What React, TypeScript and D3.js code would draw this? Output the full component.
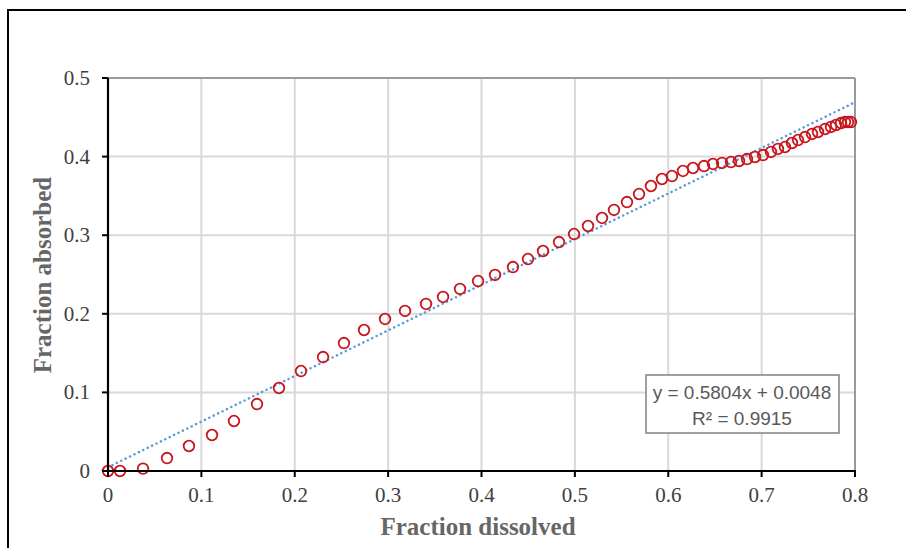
import React from "react";
import * as d3 from "d3";

const fractionDissolved = [
  0, 0.0129, 0.0375, 0.0632, 0.0867, 0.1114, 0.1349, 0.1596, 0.1831, 0.2067,
  0.2303, 0.2527, 0.2742, 0.2967, 0.3181, 0.3406, 0.3588, 0.377, 0.3963, 0.4145,
  0.4337, 0.4498, 0.4659, 0.483, 0.4991, 0.5141, 0.5291, 0.5419, 0.5558, 0.5687,
  0.5815, 0.5933, 0.604, 0.6158, 0.6265, 0.6383, 0.6479, 0.6576, 0.6672, 0.6758,
  0.6843, 0.6929, 0.7015, 0.71, 0.7175, 0.725, 0.7325, 0.739, 0.7465, 0.754,
  0.7604, 0.7679, 0.7743, 0.7797, 0.785, 0.7893, 0.7925, 0.7957,
];
const fractionAbsorbed = [
  0, 0, 0.003, 0.0165, 0.0318, 0.0458, 0.0636, 0.0852, 0.1056, 0.1272,
  0.145, 0.1628, 0.1794, 0.1934, 0.2036, 0.2125, 0.2214, 0.2316, 0.2417, 0.2494,
  0.2595, 0.2697, 0.2799, 0.2913, 0.3015, 0.3117, 0.3219, 0.3321, 0.3422, 0.3524,
  0.3626, 0.3715, 0.3753, 0.3817, 0.3855, 0.388, 0.3906, 0.3919, 0.3931, 0.3944,
  0.3969, 0.3995, 0.402, 0.4059, 0.4097, 0.4122, 0.4173, 0.4211, 0.4249, 0.4288,
  0.4313, 0.4351, 0.4377, 0.4402, 0.4427, 0.444, 0.444, 0.444,
];
const xTicks = [0, 0.1, 0.2, 0.3, 0.4, 0.5, 0.6, 0.7, 0.8];
const yTicks = [0, 0.1, 0.2, 0.3, 0.4, 0.5];
const trendSlope = 0.5804;
const trendIntercept = 0.0048;
const trendDomain = [0, 0.8];
const equationLines = ["y = 0.5804x + 0.0048", "R² = 0.9915"];
const xTitle = "Fraction dissolved";
const yTitle = "Fraction absorbed";

export default function App() {
  const W = 906;
  const H = 548;
  const left = 108;
  const right = 855;
  const top = 78;
  const bottom = 471;

  const x = d3.scaleLinear().domain([0, 0.8]).range([left, right]);
  const y = d3.scaleLinear().domain([0, 0.5]).range([bottom, top]);

  const points = fractionDissolved.map((d, i) => ({ x: d, y: fractionAbsorbed[i] }));
  const trendPts = trendDomain.map((d) => ({ x: d, y: trendSlope * d + trendIntercept }));
  const trendPath =
    d3
      .line<{ x: number; y: number }>()
      .x((d) => x(d.x))
      .y((d) => y(d.y))(trendPts) || "";

  const serif = "Liberation Serif";
  const sans = "Liberation Sans";

  return (
    <svg
      width={W}
      height={H}
      style={{ position: "absolute", left: 0, top: 0, display: "block", background: "#fff" }}
    >
      <rect x={0} y={0} width={W} height={H} fill="#fff" />
      <rect x={8} y={10} width={W + 20} height={H + 20} fill="#fff" stroke="#000" strokeWidth={2} />

      {xTicks.slice(1).map((t) => (
        <line key={"gx" + t} x1={x(t)} x2={x(t)} y1={top} y2={bottom} stroke="#d9d9d9" strokeWidth={2} />
      ))}
      {yTicks.slice(1).map((t) => (
        <line key={"gy" + t} x1={left} x2={right} y1={y(t)} y2={y(t)} stroke="#d9d9d9" strokeWidth={2} />
      ))}
      <line x1={left} x2={right} y1={top} y2={top} stroke="#9a9a9a" strokeWidth={2} />
      <line x1={right} x2={right} y1={top} y2={bottom} stroke="#9a9a9a" strokeWidth={2} />

      <path
        d={trendPath}
        fill="none"
        stroke="#5B9BD5"
        strokeWidth={2.5}
        strokeDasharray="0.1 4.8"
        strokeLinecap="round"
      />

      {points.map((p, i) => (
        <circle key={i} cx={x(p.x)} cy={y(p.y)} r={5.3} fill="none" stroke="#C8161D" strokeWidth={1.8} />
      ))}

      <line x1={left} x2={left} y1={top} y2={bottom + 1} stroke="#000" strokeWidth={2.2} />
      <line x1={left - 6} x2={right + 1} y1={bottom} y2={bottom} stroke="#000" strokeWidth={2.2} />
      {yTicks.map((t) => (
        <line key={"ty" + t} x1={left - 6} x2={left} y1={y(t)} y2={y(t)} stroke="#000" strokeWidth={2} />
      ))}
      {xTicks.map((t) => (
        <line key={"tx" + t} x1={x(t)} x2={x(t)} y1={bottom} y2={bottom + 6} stroke="#000" strokeWidth={2} />
      ))}

      {yTicks.map((t) => (
        <text
          key={"ly" + t}
          x={90}
          y={y(t) + 7}
          textAnchor="end"
          fontFamily={serif}
          fontSize={21}
          fill="#404040"
        >
          {d3.format("")(t)}
        </text>
      ))}
      {xTicks.map((t) => (
        <text
          key={"lx" + t}
          x={x(t)}
          y={502}
          textAnchor="middle"
          fontFamily={serif}
          fontSize={21}
          fill="#404040"
        >
          {d3.format("")(t)}
        </text>
      ))}

      <text x={478} y={535} textAnchor="middle" fontFamily={serif} fontSize={25} fontWeight="bold" fill="#666">
        {xTitle}
      </text>
      <text
        transform={`translate(51, 275) rotate(-90)`}
        textAnchor="middle"
        fontFamily={serif}
        fontSize={25}
        fontWeight="bold"
        fill="#666"
      >
        {yTitle}
      </text>

      <rect x={646} y={375} width={193} height={58} fill="#fff" stroke="#808080" strokeWidth={1.5} />
      <text x={742} y={399} textAnchor="middle" fontFamily={sans} fontSize={19} fill="#595959">
        {equationLines[0]}
      </text>
      <text x={742} y={425} textAnchor="middle" fontFamily={sans} fontSize={19} fill="#595959">
        {equationLines[1]}
      </text>
    </svg>
  );
}
